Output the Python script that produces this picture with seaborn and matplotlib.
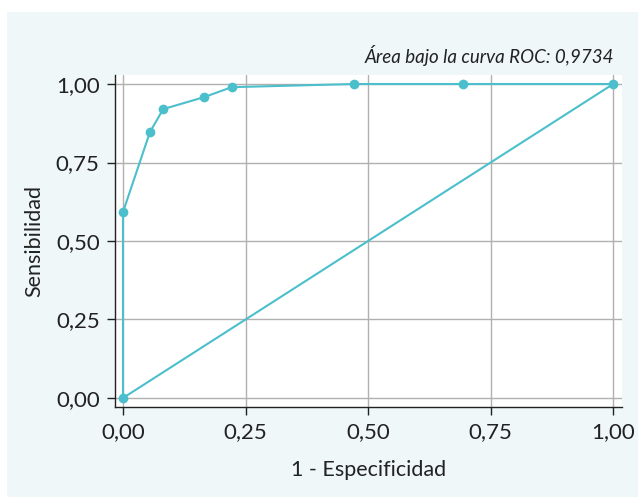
import matplotlib
matplotlib.use("Agg")
import matplotlib.pyplot as plt
import seaborn as sns
import pandas as pd
from matplotlib.patches import Rectangle
from matplotlib.ticker import FuncFormatter

# Data
fpr = [0.0, 0.0, 0.055, 0.082, 0.165, 0.222, 0.471, 0.694, 1.0]
tpr = [0.0, 0.592, 0.847, 0.920, 0.958, 0.990, 1.0, 1.0, 1.0]
diag_x = [0.0, 1.0]
diag_y = [0.0, 1.0]
ticks = [0.0, 0.25, 0.50, 0.75, 1.0]
auc_label = "Área bajo la curva ROC: 0,9734"
xlabel = "1 - Especificidad"
ylabel = "Sensibilidad"

sns.set_theme(style="whitegrid")
plt.rcParams['font.family'] = ['Lato', 'DejaVu Sans']

color = "#4bbfcc"
bg = "#eff7f9"

fig = plt.figure(figsize=(6.38, 4.97), dpi=100)
fig.patch.set_facecolor("white")
fig.patches.append(Rectangle((7/638, 0), 1 - 7/638, 1 - 12/497, transform=fig.transFigure,
                             facecolor=bg, edgecolor="none", zorder=-10))

ax = fig.add_axes([115/638, 1 - 407/497, (622 - 115)/638, (407 - 75)/497])
ax.set_facecolor("white")

roc = pd.DataFrame({"x": fpr, "y": tpr})
diag = pd.DataFrame({"x": diag_x, "y": diag_y})
sns.lineplot(data=diag, x="x", y="y", ax=ax, color=color, linewidth=1.5, sort=False)
sns.lineplot(data=roc, x="x", y="y", ax=ax, color=color, linewidth=1.5, sort=False,
             marker="o", markersize=7, markeredgewidth=0, estimator=None)

ax.set_xlim(-0.0163, 1.018)
ax.set_ylim(-0.0287, 1.0287)
ax.set_xticks(ticks)
ax.set_yticks(ticks)
fmt = FuncFormatter(lambda v, p: f"{v:.2f}".replace(".", ","))
ax.xaxis.set_major_formatter(fmt)
ax.yaxis.set_major_formatter(fmt)
ax.grid(True, color="#b0b0b0", linewidth=1)
for s in ["top", "right"]:
    ax.spines[s].set_visible(False)
for s in ["left", "bottom"]:
    ax.spines[s].set_visible(True)
    ax.spines[s].set_color("#222222")
    ax.spines[s].set_linewidth(1)
ax.tick_params(axis="both", which="major", direction="out", length=6, width=1,
               color="#222222", labelsize=16, labelcolor="#222222", pad=5,
               bottom=True, left=True)
ax.set_xlabel(xlabel, fontsize=15.5, color="#222222", labelpad=13)
ax.set_ylabel(ylabel, fontsize=15.5, color="#222222", labelpad=8)

fig.text(614/638, 1 - 56/497, auc_label, ha="right", va="center", fontsize=13.5,
         style="italic", color="#222222")

fig.savefig("out.png", dpi=100, facecolor=fig.get_facecolor())
